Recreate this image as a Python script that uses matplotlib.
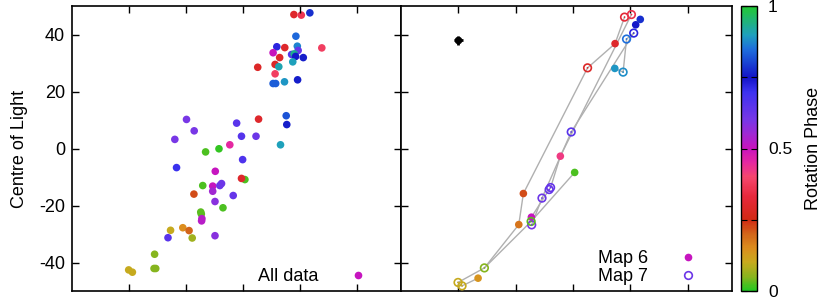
import numpy as np
import matplotlib
matplotlib.use("Agg")
import matplotlib.pyplot as plt
from matplotlib.colors import LinearSegmentedColormap, Normalize
from matplotlib.cm import ScalarMappable
from matplotlib.lines import Line2D

plt.rcParams["font.family"] = ["Liberation Sans", "DejaVu Sans"]
plt.rcParams["font.size"] = 12.5

# all data (left panel): x, centre of light, rotation phase
all_x = [17.9, 20.5, 23.5, 18.6, 19.1, 11.9, 14.7, 27.7, 10.6, 19.4, 17.1, 18.0, 18.5,
         21.2, 12.9, 17.5, 11.3, 12.6, 5.2, 11.3, 10.6, 11.5, 14.6, 19.2, -19.8, -2.2,
         5.5, 15.2, 15.4, -17.1, -23.9, -0.5, 4.6, -4.6, 13.2, -13.1, -8.4, -0.1, -23.3,
         -9.7, 0.7, -0.5, -14.1, -10.6, -10.6, -8.1, -7.5, -17.2, -3.4, -9.8, -7.0,
         -14.8, -14.6, -14.4, -14.5, -25.4, -21.1, -18.9, -26.3, -17.8, -9.8, -31.0,
         -31.2, -30.6, -40.1, -38.8]
all_y = [47.0, 46.8, 47.6, 39.4, 35.9, 35.7, 35.4, 35.3, 33.6, 34.4, 33.0, 33.2, 32.3,
         31.9, 31.9, 30.4, 29.5, 28.7, 28.5, 26.2, 22.8, 22.8, 23.4, 24.1, 10.2, 8.9,
         10.3, 11.5, 8.4, 6.2, 3.2, 4.3, 4.3, 1.3, 1.3, -1.2, -0.1, -3.9, -6.7,
         -8.0, -10.9, -10.5, -13.0, -13.2, -15.0, -13.0, -12.3, -16.0, -16.5, -18.6, -20.8,
         -22.3, -23.0, -24.6, -25.4, -28.7, -27.8, -28.8, -31.3, -31.4, -30.6, -37.1,
         -42.1, -42.1, -42.6, -43.4]
all_phase = [0.30, 0.36, 0.78, 0.84, 0.87, 0.72, 0.30, 0.38, 0.50, 0.63, 0.66, 0.93, 0.75,
             0.76, 0.30, 0.90, 0.29, 0.91, 0.29, 0.38, 0.83, 0.83, 0.89, 0.76, 0.60, 0.65,
             0.30, 0.82, 0.76, 0.60, 0.60, 0.66, 0.62, 0.45, 0.90, 0.02, 0.01, 0.67, 0.70,
             0.50, 0.02, 0.30, 0.02, 0.50, 0.55, 0.62, 0.62, 0.22, 0.63, 0.58, 0.02,
             0.03, 0.03, 0.52, 0.52, 0.10, 0.15, 0.20, 0.65, 0.07, 0.58, 0.05,
             0.05, 0.05, 0.10, 0.10]

# map 6 (filled) and map 7 (open), right panel
map6_x = [-33.1, -18.9, -17.3, 14.7, -4.4, -14.5, 21.9, 23.5, 14.6, 0.6]
map6_y = [-45.5, -26.7, -15.8, 36.8, -2.7, -24.1, 43.4, 45.3, 28.1, -8.4]
map6_phase = [0.14, 0.18, 0.22, 0.30, 0.42, 0.50, 0.75, 0.78, 0.89, 0.02]

map7_x = [-40.1, -38.7, -30.9, 5.1, 18.0, 20.4, -14.4, -10.8, -7.8, -8.3, -0.6, 21.2, 18.7, 17.5, -14.6]
map7_y = [-47.0, -48.2, -41.9, 28.3, 46.1, 47.0, -26.8, -17.4, -13.7, -14.4, 5.8, 40.5, 38.4, 26.8, -25.6]
map7_phase = [0.10, 0.10, 0.05, 0.29, 0.32, 0.35, 0.60, 0.62, 0.63, 0.63, 0.65, 0.72, 0.85, 0.88, 0.03]

# connecting lines: (map, index) pairs
links = [((6, 9), (7, 14)), ((7, 14), (7, 2)), ((7, 2), (7, 0)), ((7, 0), (7, 1)),
         ((7, 1), (6, 0)), ((6, 1), (7, 2)), ((6, 1), (6, 2)), ((6, 2), (7, 3)),
         ((7, 3), (6, 3)), ((6, 3), (7, 4)), ((7, 5), (6, 4)), ((6, 4), (7, 8)),
         ((7, 8), (7, 9)), ((7, 9), (6, 5)), ((7, 10), (7, 7)), ((7, 7), (7, 6)),
         ((7, 10), (7, 11)), ((7, 11), (7, 12)), ((7, 12), (7, 13)), ((7, 13), (6, 8))]

err_x, err_y, err_size = -40.0, 37.9, 1.6

phase_nodes = [0.0, 0.05, 0.1, 0.15, 0.2, 0.25, 0.33, 0.4, 0.45, 0.5, 0.55, 0.6, 0.7,
               0.75, 0.85, 0.9, 1.0]
phase_colors = ["#22c822", "#8cb41e", "#c8aa1e", "#dc8c1e", "#d2641a", "#d22814",
                "#e6283c", "#f5466e", "#e628a0", "#c814be", "#a028d2", "#7837e6", "#3c32f0",
                "#1414c8", "#1e6edc", "#1ea0be", "#22c832"]
cmap = LinearSegmentedColormap.from_list("phase", list(zip(phase_nodes, phase_colors)))
norm = Normalize(0, 1)

fig = plt.figure(figsize=(8.24, 2.99), dpi=100)
ax1 = fig.add_axes([72 / 824, 8 / 299, 329 / 824, 285 / 299])
ax2 = fig.add_axes([401 / 824, 8 / 299, 331 / 824, 285 / 299])
cax = fig.add_axes([741 / 824, 8 / 299, 16 / 824, 285 / 299])

for ax in (ax1, ax2):
    ax.set_xlim(-60, 55.5)
    ax.set_ylim(-50, 50)
    ax.set_xticks([-40, -20, 0, 20, 40])
    ax.set_yticks([-40, -20, 0, 20, 40])
    ax.tick_params(direction="in", top=True, right=True, length=5, width=1,
                   labelbottom=False, labelsize=13, pad=5)
    for s in ax.spines.values():
        s.set_linewidth(1.2)
ax2.tick_params(labelleft=False)
ax1.set_yticklabels(["-40", "-20", "0", "20", "40"])
ax1.set_ylabel("Centre of Light", labelpad=8, fontsize=13)

ax1.scatter(all_x, all_y, c=all_phase, cmap=cmap, norm=norm, s=30, edgecolors="none")
ax1.legend(handles=[Line2D([], [], ls="none", marker="o", ms=5.5, mfc=cmap(0.5), mec="none")],
           labels=["All data"], loc="lower right", markerfirst=False, frameon=False,
           bbox_to_anchor=(0.945, -0.005), borderaxespad=0.0, handlelength=2,
           handletextpad=1.2, fontsize=13)

pts = {6: (map6_x, map6_y), 7: (map7_x, map7_y)}
for (m1, i1), (m2, i2) in links:
    ax2.plot([pts[m1][0][i1], pts[m2][0][i2]], [pts[m1][1][i1], pts[m2][1][i2]],
             color="#b0b0b0", lw=1, zorder=1)

ax2.scatter(map6_x, map6_y, c=map6_phase, cmap=cmap, norm=norm, s=30, edgecolors="none", zorder=3)
ax2.scatter(map7_x, map7_y, facecolors="none", edgecolors=cmap(norm(map7_phase)), s=30,
            linewidths=1.2, zorder=3)
ax2.scatter(map7_x, map7_y, c=map7_phase, cmap=cmap, norm=norm, s=1.5, edgecolors="none", zorder=3)
ax2.errorbar([err_x], [err_y], xerr=err_size, yerr=err_size, fmt="o", color="black",
             ms=4.5, elinewidth=2, capsize=0, zorder=4)

h6 = Line2D([], [], ls="none", marker="o", ms=5.5, mfc=cmap(0.5), mec="none")
h7 = Line2D([], [], ls="none", marker="o", ms=5.5, mfc="none", mec=cmap(0.62), mew=1.2)
ax2.legend(handles=[h6, h7], labels=["Map 6", "Map 7"], loc="lower right", markerfirst=False,
           frameon=False, bbox_to_anchor=(0.942, -0.005), borderaxespad=0.0, handlelength=2,
           handletextpad=1.2, labelspacing=0.05, fontsize=13)

cb = fig.colorbar(ScalarMappable(norm=norm, cmap=cmap), cax=cax)
cb.set_ticks([0, 0.25, 0.5, 0.75, 1])
cb.set_ticklabels(["0", "", "0.5", "", "1"])
cax.tick_params(direction="in", left=True, right=True, length=4, labelsize=12.5, pad=8)
cb.outline.set_linewidth(1)
cb.set_label("Rotation Phase", labelpad=9, fontsize=13)

fig.savefig("out.png", dpi=100)
